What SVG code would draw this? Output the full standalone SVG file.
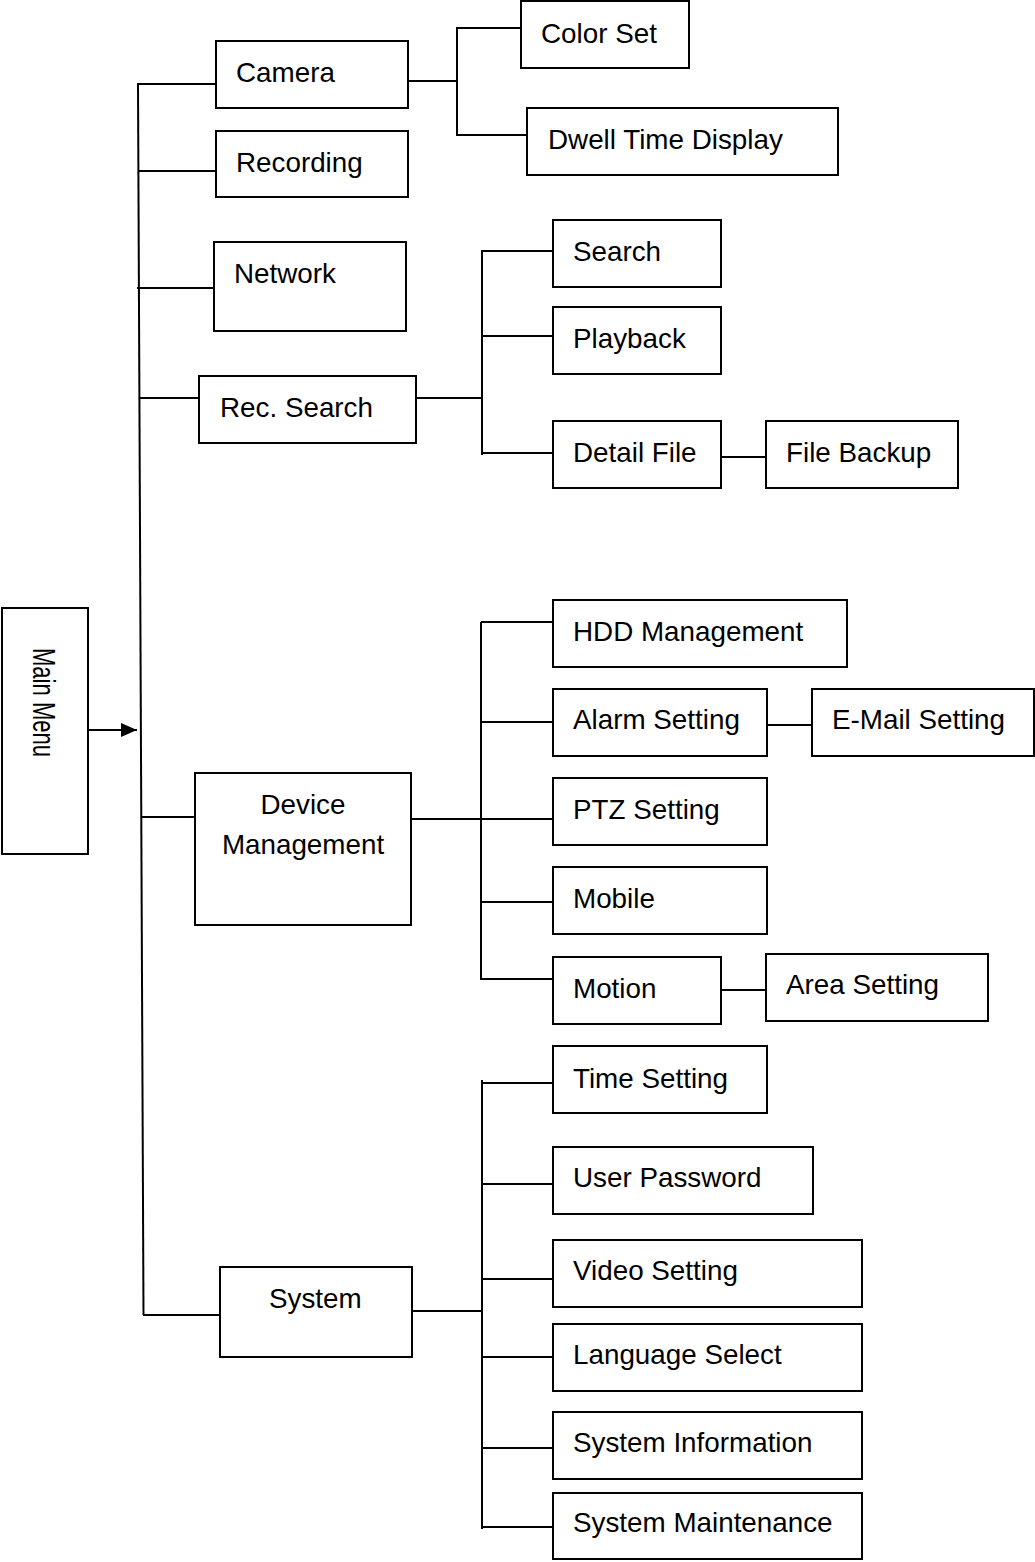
<svg xmlns="http://www.w3.org/2000/svg" width="1035" height="1562" viewBox="0 0 1035 1562">
<style>
rect{fill:#fff;stroke:#000;stroke-width:2}
line,polyline{stroke:#000;stroke-width:2;fill:none}
text{font-family:"Liberation Sans",Arial,sans-serif;font-size:27.8px;fill:#000}
</style>
<defs>
<marker id="arr" markerWidth="16" markerHeight="14" refX="16" refY="7" orient="auto" markerUnits="userSpaceOnUse">
<path d="M0,0 L16,7 L0,14 Z" fill="#000"/>
</marker>
</defs>
<rect width="1035" height="1562" style="fill:#fff;stroke:none"/>
<g id="connectors">
<line x1="89" y1="730" x2="137" y2="730" marker-end="url(#arr)"/>
<line x1="138" y1="84" x2="143.5" y2="1315"/>
<line x1="137" y1="84" x2="216" y2="84"/>
<line x1="139" y1="171" x2="219" y2="171"/>
<line x1="137" y1="288" x2="217" y2="288"/>
<line x1="139" y1="398" x2="199" y2="398"/>
<line x1="141" y1="817" x2="195" y2="817"/>
<line x1="143" y1="1315" x2="220" y2="1315"/>
<line x1="408" y1="81" x2="457" y2="81"/>
<polyline points="521,28 457,28 457,135 527,135"/>
<line x1="416" y1="398" x2="482" y2="398"/>
<line x1="482" y1="250" x2="482" y2="455"/>
<line x1="482" y1="251" x2="553" y2="251"/>
<line x1="482" y1="336" x2="553" y2="336"/>
<line x1="482" y1="453" x2="553" y2="453"/>
<line x1="721" y1="457" x2="768" y2="457"/>
<line x1="411" y1="819" x2="553" y2="819"/>
<line x1="481" y1="622" x2="481" y2="980"/>
<line x1="481" y1="622" x2="553" y2="622"/>
<line x1="481" y1="722" x2="553" y2="722"/>
<line x1="481" y1="902" x2="553" y2="902"/>
<line x1="481" y1="979" x2="553" y2="979"/>
<line x1="767" y1="725" x2="812" y2="725"/>
<line x1="721" y1="990" x2="766" y2="990"/>
<line x1="412" y1="1311" x2="482" y2="1311"/>
<line x1="482" y1="1080" x2="482" y2="1529"/>
<line x1="482" y1="1083" x2="553" y2="1083"/>
<line x1="482" y1="1184" x2="553" y2="1184"/>
<line x1="482" y1="1279" x2="553" y2="1279"/>
<line x1="482" y1="1357" x2="553" y2="1357"/>
<line x1="482" y1="1448" x2="553" y2="1448"/>
<line x1="482" y1="1527" x2="553" y2="1527"/>
</g>
<g id="main-menu"><rect x="2" y="608" width="86" height="246"/><text transform="translate(33,648) rotate(90)" style="font-size:31px" textLength="109" lengthAdjust="spacingAndGlyphs">Main Menu</text></g>
<g id="camera"><rect x="216" y="41" width="192" height="67"/><text x="236" y="82">Camera</text></g>
<g id="recording"><rect x="216" y="131" width="192" height="66"/><text x="236" y="172">Recording</text></g>
<g id="network"><rect x="214" y="242" width="192" height="89"/><text x="234" y="283">Network</text></g>
<g id="rec-search"><rect x="199" y="376" width="217" height="67"/><text x="220" y="417">Rec. Search</text></g>
<g id="device-management"><rect x="195" y="773" width="216" height="152"/><text x="303" y="814" text-anchor="middle">Device</text><text x="303" y="854" text-anchor="middle">Management</text></g>
<g id="system"><rect x="220" y="1267" width="192" height="90"/><text x="269" y="1308">System</text></g>
<g id="color-set"><rect x="521" y="1" width="168" height="67"/><text x="541" y="43">Color Set</text></g>
<g id="dwell-time-display"><rect x="527" y="108" width="311" height="67"/><text x="548" y="149">Dwell Time Display</text></g>
<g id="search"><rect x="553" y="220" width="168" height="67"/><text x="573" y="261">Search</text></g>
<g id="playback"><rect x="553" y="307" width="168" height="67"/><text x="573" y="348">Playback</text></g>
<g id="detail-file"><rect x="553" y="421" width="168" height="67"/><text x="573" y="462">Detail File</text></g>
<g id="file-backup"><rect x="766" y="421" width="192" height="67"/><text x="786" y="462">File Backup</text></g>
<g id="hdd-management"><rect x="553" y="600" width="294" height="67"/><text x="573" y="641">HDD Management</text></g>
<g id="alarm-setting"><rect x="553" y="689" width="214" height="67"/><text x="573" y="729">Alarm Setting</text></g>
<g id="email-setting"><rect x="812" y="689" width="222" height="67"/><text x="832" y="729">E-Mail Setting</text></g>
<g id="ptz-setting"><rect x="553" y="778" width="214" height="67"/><text x="573" y="819">PTZ Setting</text></g>
<g id="mobile"><rect x="553" y="867" width="214" height="67"/><text x="573" y="908">Mobile</text></g>
<g id="motion"><rect x="553" y="957" width="168" height="67"/><text x="573" y="998">Motion</text></g>
<g id="area-setting"><rect x="766" y="954" width="222" height="67"/><text x="786" y="994">Area Setting</text></g>
<g id="time-setting"><rect x="553" y="1046" width="214" height="67"/><text x="573" y="1088">Time Setting</text></g>
<g id="user-password"><rect x="553" y="1147" width="260" height="67"/><text x="573" y="1187">User Password</text></g>
<g id="video-setting"><rect x="553" y="1240" width="309" height="67"/><text x="573" y="1280">Video Setting</text></g>
<g id="language-select"><rect x="553" y="1324" width="309" height="67"/><text x="573" y="1364">Language Select</text></g>
<g id="system-information"><rect x="553" y="1412" width="309" height="67"/><text x="573" y="1452">System Information</text></g>
<g id="system-maintenance"><rect x="553" y="1493" width="309" height="66"/><text x="573" y="1532">System Maintenance</text></g>
</svg>
